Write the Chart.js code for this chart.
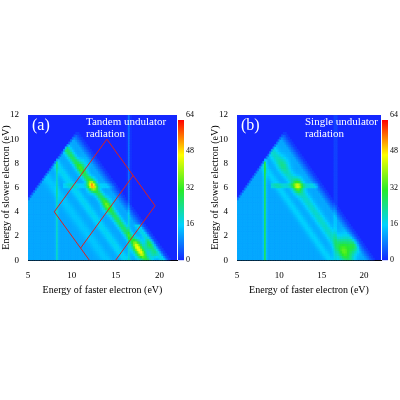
<!DOCTYPE html>
<html><head><script src="https://cdn.jsdelivr.net/npm/chart.js@4"></script>
<style>body{margin:0;background:#fff}canvas{position:absolute}</style></head>
<body>
<canvas id="ca" style="left:0;top:100px" width="205" height="196"></canvas>
<canvas id="cb" style="left:209px;top:100px" width="200" height="196"></canvas>
<script>
// x range (eV), y range (eV), colour scale
const xTicks=[5,10,15,20], yTicks=[0,2,4,6,8,10,12], cbTicks=[0,16,32,48,64];
// panel (a) features: anti-diagonal bands [x+y, width, amplitude, ymax]
const bandsA=[[18.6,0.35,16,12],[20.6,0.3,12,3],[16.2,0.4,5,12],[14,0.5,3,12]];
// spots [x, y, amplitude, width]
const spotsA=[[12.3,6.2,24,0.35],[14,4.6,10,0.4],[17.4,1.2,18,0.4],[17.9,0.6,16,0.35],[18.8,1.3,14,0.35],[19.3,0.6,10,0.3],[11.2,7.8,8,0.4]];
// vertical lines [x, amplitude inside, amplitude outside]
const vlinesA=[[8.3,8,0],[16.5,6,7]];
// horizontal lines [y, x0, x1, amplitude]
const hlinesA=[[6.2,9,15,6]];
const bandsB=[[18.2,0.5,8,12],[16,0.4,4,12]];
const spotsB=[[12.2,6.2,20,0.4],[17.8,1.0,18,0.7],[18.8,1.2,10,0.4],[10.5,8,5,0.5]];
const vlinesB=[[8.3,16,0],[16.6,5,4]];
const hlinesB=[[6.2,9,14.5,10]];
const baseLevel=12;
// red box segments (panel a)
const boxSegs=[[[8,4],[14,10]],[[14,10],[19.5,4.5]],[[19.5,4.5],[15,0]],[[8,4],[12,0]],[[11,1],[17,7]]];

function jet(v){const t=Math.max(0,Math.min(1,v/64));
 const st=[[0,[20,40,255]],[0.25,[0,210,255]],[0.5,[40,235,40]],[0.75,[255,255,0]],[1,[255,0,0]]];
 for(let i=1;i<st.length;i++){if(t<=st[i][0]){const a=st[i-1],b=st[i],f=(t-a[0])/(b[0]-a[0]);
 return `rgb(${a[1].map((c,k)=>Math.round(c+(b[1][k]-c)*f)).join(',')})`;}}return 'rgb(255,0,0)';}
function val(x,y,F){const cl=v=>Math.max(0,Math.min(1,v));
 const inside=cl((21.4-(x+y))/1.2)*cl((x-y)/0.3+0.5);let v=0;
 for(const l of F.v){const g=Math.exp(-((x-l[0])**2)/(2*0.1*0.1));v+=g*(l[2]+(l[1]-l[2])*inside);}
 if(inside>0){let s=baseLevel;
  for(const b of F.b){if(y<=b[3])s+=b[2]*Math.exp(-((x+y-b[0])**2)/(2*b[1]*b[1]));}
  for(const p of F.s){s+=p[2]*Math.exp(-((x-p[0])**2+(y-p[1])**2)/(2*p[3]*p[3]));}
  for(const h of F.h){if(x>=h[1]&&x<=h[2])s+=h[3]*Math.exp(-((y-h[0])**2)/(2*0.1*0.1));}
  v+=s*inside;}
 return v;}
function mk(id,F,label,text,box,tx){
 const heat={id:'heat',beforeDatasetsDraw(c){const g=c.ctx,xs=c.scales.x,ys=c.scales.y,a=c.chartArea;
  g.save();g.beginPath();g.rect(a.left,a.top,a.right-a.left,a.bottom-a.top);g.clip();
  g.fillStyle=jet(0);g.fillRect(a.left,a.top,a.right-a.left,a.bottom-a.top);
  const d=0.2;for(let x=5;x<22;x+=d)for(let y=0;y<12;y+=d){const v=val(x+d/2,y+d/2,F);if(v<0.5)continue;
   const x0=xs.getPixelForValue(x),x1=xs.getPixelForValue(x+d),y0=ys.getPixelForValue(y+d),y1=ys.getPixelForValue(y);
   g.fillStyle=jet(v);g.fillRect(x0,y0,x1-x0+0.6,y1-y0+0.6);}
  g.restore();
  const cb=c.scales.cb;const gr=g.createLinearGradient(0,cb.bottom,0,cb.top+5);
  for(let i=0;i<=20;i++)gr.addColorStop(i/20,jet(64*i/20));
  g.fillStyle=gr;g.fillRect(cb.left+1,cb.top+5,6,cb.bottom-cb.top-5);},
  afterDatasetsDraw(c){const g=c.ctx,a=c.chartArea;g.save();g.fillStyle='#fff';g.textBaseline='top';
  g.font='16px "Liberation Serif"';g.fillText(label,a.left+4,a.top+3);
  g.font='11px "Liberation Serif"';text.forEach((t,i)=>g.fillText(t,a.left+tx,a.top+2+i*12));g.restore();}};
 const ds=box?boxSegs.map(s=>({type:'line',data:s.map(p=>({x:p[0],y:p[1]})),borderColor:'#e0201a',borderWidth:1,pointRadius:0,clip:0})):[];
 const tf={family:'Liberation Serif',size:9};
 new Chart(document.getElementById(id),{type:'scatter',data:{datasets:ds},plugins:[heat],
 options:{responsive:false,animation:false,events:[],layout:{padding:{top:15,right:0,bottom:0,left:0}},
 plugins:{legend:{display:false},tooltip:{enabled:false}},
 scales:{x:{type:'linear',min:5,max:22,afterBuildTicks:s=>{s.ticks=xTicks.map(v=>({value:v}))},
  grid:{display:false,drawTicks:true},border:{color:'#000'},ticks:{color:'#000',font:tf,padding:2},
  title:{display:true,text:'Energy of faster electron (eV)',color:'#000',font:{family:'Liberation Serif',size:10},padding:{top:1,bottom:0}}},
 y:{min:0,max:12,afterBuildTicks:s=>{s.ticks=yTicks.map(v=>({value:v}))},grid:{display:false},border:{color:'#000'},
  ticks:{color:'#000',font:tf,padding:1},afterFit:s=>{s.width=28},
  title:{display:true,text:'Energy of slower electron (eV)',color:'#000',font:{family:'Liberation Serif',size:10},padding:{top:0,bottom:0}}},
 cb:{position:'right',min:0,max:64,afterBuildTicks:s=>{s.ticks=cbTicks.map(v=>({value:v}))},grid:{display:false,drawTicks:false},border:{display:false},
  ticks:{color:'#000',font:{family:'Liberation Serif',size:8},padding:9},afterFit:s=>{s.width=28}}}}});}
mk('ca',{b:bandsA,s:spotsA,v:vlinesA,h:hlinesA},'(a)',['Tandem undulator','radiation'],true,58);
mk('cb',{b:bandsB,s:spotsB,v:vlinesB,h:hlinesB},'(b)',['Single undulator','radiation'],false,68);
</script></body></html>
